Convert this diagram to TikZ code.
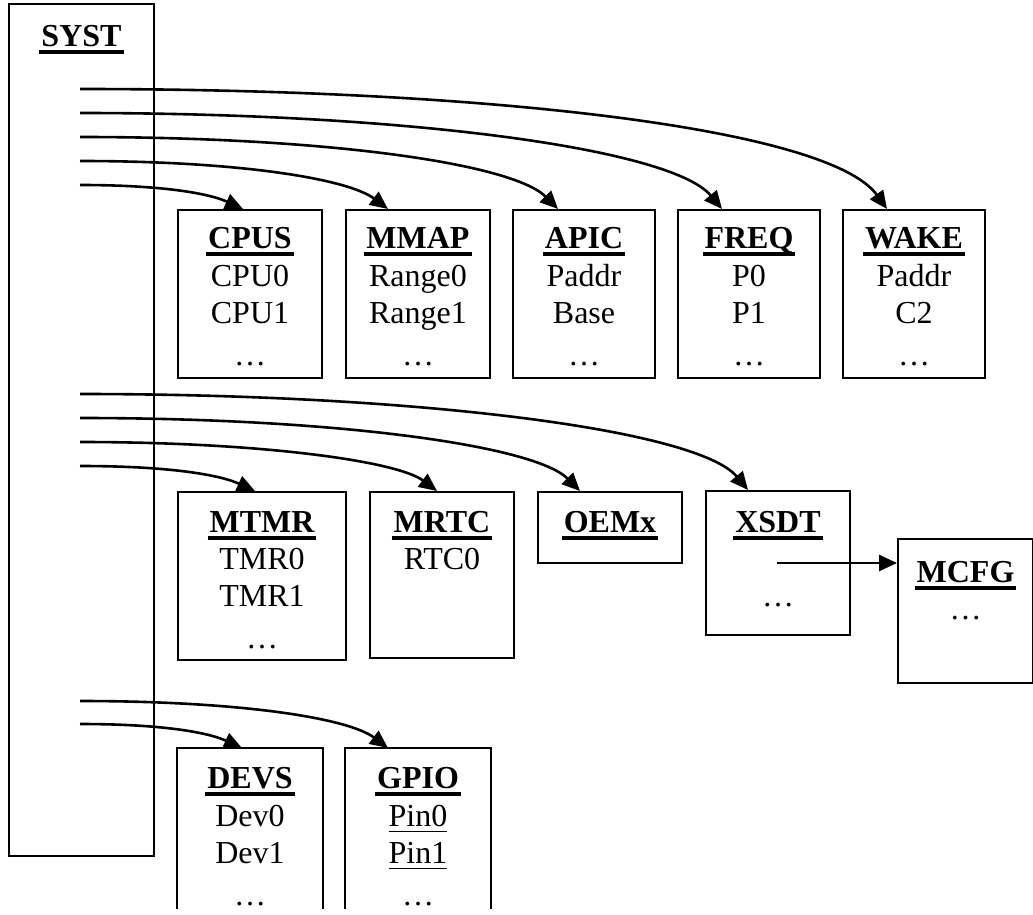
\documentclass[tikz,border=0pt]{standalone}
\usepackage{fontspec}
\setmainfont{Liberation Serif}
\usetikzlibrary{arrows.meta,calc}
\newsavebox{\tabbox}
\newcommand{\tabname}[1]{\sbox{\tabbox}{\bfseries #1}\leavevmode\rlap{\kern-1pt\rule[-3.6pt]{\dimexpr\wd\tabbox+2pt\relax}{1.7pt}}\usebox{\tabbox}}
\newcommand{\pinname}[1]{\sbox{\tabbox}{#1}\leavevmode\rlap{\rule[-2.8pt]{\wd\tabbox}{0.8pt}}\usebox{\tabbox}}
\begin{document}
\begin{tikzpicture}[x=0.5pt,y=-0.5pt,
  tablebox/.style={draw,line width=1pt,anchor=north west,inner sep=0pt},
  tabletext/.style={anchor=north,inner sep=0pt,align=center,font=\fontsize{16}{18.5}\selectfont},
  link/.style={-{Triangle[length=9pt,width=8pt]},line width=1.3pt}]
  \useasboundingbox (0,0) rectangle (1033,915);
  \node[tablebox,minimum width=72.5pt,minimum height=426pt] (syst) at (8,3) {};
  \node[tablebox,minimum width=72pt,minimum height=84pt] (cpus) at (177,209) {};
  \node[tablebox,minimum width=72pt,minimum height=84pt] (mmap) at (345,209) {};
  \node[tablebox,minimum width=71pt,minimum height=84pt] (apic) at (512,209) {};
  \node[tablebox,minimum width=71pt,minimum height=84pt] (freq) at (677,209) {};
  \node[tablebox,minimum width=71pt,minimum height=84pt] (wake) at (842,209) {};
  \node[tablebox,minimum width=84pt,minimum height=84pt] (mtmr) at (177,491) {};
  \node[tablebox,minimum width=72pt,minimum height=83pt] (mrtc) at (369,491) {};
  \node[tablebox,minimum width=72pt,minimum height=35.5pt] (oemx) at (537,491) {};
  \node[tablebox,minimum width=72pt,minimum height=72pt] (xsdt) at (705,490) {};
  \node[tablebox,minimum width=67.5pt,minimum height=72pt] (mcfg) at (897,538) {};
  \node[tablebox,draw=none,minimum width=72pt,minimum height=79.5pt] (devs) at (177,748) {};
  \node[tablebox,draw=none,minimum width=72pt,minimum height=79.5pt] (gpio) at (345,748) {};
  \draw[line width=1pt] (devs.south west) -- (devs.north west) -- (devs.north east) -- (devs.south east);
  \draw[line width=1pt] (gpio.south west) -- (gpio.north west) -- (gpio.north east) -- (gpio.south east);

  \node[tabletext] (syst-t) at ($(syst.north)+(0,22)$) {\tabname{SYST}};
  \node[tabletext] (cpus-t) at ($(cpus.north)+(0,18)$) {\tabname{CPUS}\\[0.5pt]CPU0\\CPU1\\[2.5pt]…};
  \node[tabletext] (mmap-t) at ($(mmap.north)+(0,18)$) {\tabname{MMAP}\\[0.5pt]Range0\\Range1\\[2.5pt]…};
  \node[tabletext] (apic-t) at ($(apic.north)+(0,18)$) {\tabname{APIC}\\[0.5pt]Paddr\\Base\\[2.5pt]…};
  \node[tabletext] (freq-t) at ($(freq.north)+(0,18)$) {\tabname{FREQ}\\[0.5pt]P0\\P1\\[2.5pt]…};
  \node[tabletext] (wake-t) at ($(wake.north)+(0,18)$) {\tabname{WAKE}\\[0.5pt]Paddr\\C2\\[2.5pt]…};
  \node[tabletext] (mtmr-t) at ($(mtmr.north)+(0,20)$) {\tabname{MTMR}\\TMR0\\TMR1\\[2.5pt]…};
  \node[tabletext] (mrtc-t) at ($(mrtc.north)+(0,20)$) {\tabname{MRTC}\\RTC0};
  \node[tabletext] (oemx-t) at ($(oemx.north)+(0,20)$) {\tabname{OEMx}};
  \node[tabletext] (xsdt-t) at ($(xsdt.north)+(0,21)$) {\tabname{XSDT}\\\mbox{}\\…};
  \node[tabletext] (mcfg-t) at ($(mcfg.north)+(0,23)$) {\tabname{MCFG}\\…};
  \node[tabletext] (devs-t) at ($(devs.north)+(0,19)$) {\tabname{DEVS}\\[0.5pt]Dev0\\Dev1\\[2.5pt]…};
  \node[tabletext] (gpio-t) at ($(gpio.north)+(0,19)$) {\tabname{GPIO}\\[0.5pt]\pinname{Pin0}\\\pinname{Pin1}\\[2.5pt]…};

  \coordinate (syst1) at (80,89);
  \coordinate (syst2) at (80,113);
  \coordinate (syst3) at (80,137);
  \coordinate (syst4) at (80,161);
  \coordinate (syst5) at (80,185);
  \coordinate (syst6) at (80,394);
  \coordinate (syst7) at (80,418);
  \coordinate (syst8) at (80,442);
  \coordinate (syst9) at (80,466);
  \coordinate (syst10) at (80,701);
  \coordinate (syst11) at (80,724);
  \coordinate (xsdt1) at (777,563);

  \draw[link] (syst1) .. controls +(420,0) and +(-57,-79) .. ($(wake.north west)+(45,0)$);
  \draw[link] (syst2) .. controls +(330,0) and +(-50,-60) .. ($(freq.north west)+(45,0)$);
  \draw[link] (syst3) .. controls +(250,0) and +(-45,-45) .. ($(apic.north west)+(46,0)$);
  \draw[link] (syst4) .. controls +(160,0) and +(-40,-30) .. ($(mmap.north west)+(43,0)$);
  \draw[link] (syst5) .. controls +(80,0) and +(-35,-16) .. ($(cpus.north west)+(66,0)$);
  \draw[link] (syst6) .. controls +(340,0) and +(-50,-60) .. ($(xsdt.north west)+(43,0)$);
  \draw[link] (syst7) .. controls +(260,0) and +(-45,-45) .. ($(oemx.north west)+(43,0)$);
  \draw[link] (syst8) .. controls +(180,0) and +(-40,-30) .. ($(mrtc.north west)+(68,0)$);
  \draw[link] (syst9) .. controls +(90,0) and +(-35,-16) .. ($(mtmr.north west)+(78,0)$);
  \draw[link] (syst10) .. controls +(160,0) and +(-40,-30) .. ($(gpio.north west)+(43,0)$);
  \draw[link] (syst11) .. controls +(80,0) and +(-35,-16) .. ($(devs.north west)+(65,0)$);
  \draw[link] (xsdt1) -- (xsdt1 -| mcfg.west);
\end{tikzpicture}
\end{document}
